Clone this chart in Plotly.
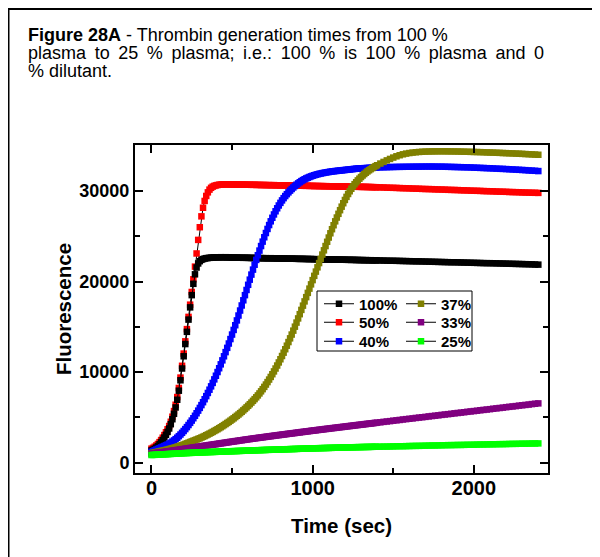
import plotly.graph_objects as go

# ---------------- data ----------------
time_sec = list(range(0, 1400, 10)) + list(range(1400, 2401, 20))

series_names = ["100%", "50%", "40%", "37%", "33%", "25%"]

f_100 = [
    1350, 1440, 1550, 1680, 1840, 2030, 2250, 2500, 2780, 3080,
    3400, 3780, 4250, 4800, 5400, 6100, 6950, 7950, 9100, 10400,
    11750, 13100, 14450, 15800, 17150, 18500, 19750, 20800, 21550, 22000,
    22250, 22400, 22480, 22540, 22580, 22600, 22620, 22640, 22650, 22660,
    22670, 22670, 22680, 22690, 22680, 22680, 22690, 22670, 22670, 22660,
    22650, 22650, 22640, 22650, 22640, 22630, 22630, 22620, 22630, 22620,
    22620, 22610, 22610, 22600, 22600, 22610, 22600, 22590, 22590, 22580,
    22580, 22580, 22570, 22570, 22580, 22570, 22560, 22560, 22550, 22550,
    22550, 22540, 22540, 22540, 22530, 22530, 22520, 22530, 22520, 22520,
    22510, 22510, 22500, 22510, 22500, 22500, 22490, 22490, 22480, 22490,
    22480, 22470, 22470, 22460, 22470, 22460, 22460, 22450, 22450, 22450,
    22440, 22440, 22440, 22430, 22430, 22420, 22430, 22420, 22410, 22420,
    22410, 22400, 22400, 22400, 22390, 22400, 22390, 22380, 22380, 22380,
    22370, 22370, 22360, 22370, 22360, 22350, 22360, 22350, 22340, 22340,
    22340,
    22330, 22320, 22310, 22300, 22300, 22290, 22280, 22270, 22260, 22250,
    22240, 22230, 22230, 22220, 22210, 22200, 22190, 22180, 22170, 22160,
    22150, 22140, 22130, 22130, 22120, 22110, 22100, 22090, 22080, 22070,
    22060, 22050, 22040, 22030, 22030, 22020, 22010, 22000, 21990, 21980,
    21970, 21960, 21950, 21940, 21930, 21920, 21910, 21900, 21880, 21870,
]

f_50 = [
    1550, 1640, 1760, 1900, 2070, 2270, 2500, 2760, 3050, 3360,
    3690, 4050, 4520, 5080, 5700, 6400, 7250, 8250, 9400, 10700,
    12050, 13400, 14750, 16100, 17450, 18850, 20250, 21650, 23100, 24600,
    26000, 27200, 28150, 28900, 29450, 29850, 30150, 30350, 30480, 30560,
    30620, 30660, 30690, 30710, 30720, 30730, 30730, 30740, 30730, 30720,
    30720, 30720, 30710, 30720, 30710, 30700, 30700, 30710, 30700, 30690,
    30690, 30690, 30680, 30680, 30690, 30670, 30670, 30670, 30660, 30660,
    30660, 30650, 30650, 30650, 30640, 30640, 30650, 30630, 30630, 30630,
    30620, 30620, 30620, 30610, 30610, 30620, 30600, 30600, 30600, 30590,
    30590, 30590, 30580, 30580, 30580, 30570, 30570, 30580, 30560, 30560,
    30560, 30550, 30550, 30550, 30540, 30540, 30540, 30530, 30530, 30530,
    30520, 30520, 30520, 30510, 30510, 30510, 30500, 30500, 30500, 30490,
    30490, 30490, 30480, 30480, 30480, 30470, 30470, 30470, 30460, 30460,
    30460, 30450, 30450, 30450, 30440, 30440, 30430, 30430, 30420, 30420,
    30410,
    30400, 30390, 30370, 30360, 30350, 30340, 30320, 30310, 30300, 30290,
    30270, 30260, 30250, 30230, 30220, 30210, 30200, 30180, 30170, 30160,
    30150, 30130, 30120, 30110, 30100, 30080, 30070, 30060, 30040, 30030,
    30020, 30010, 29990, 29980, 29970, 29960, 29940, 29930, 29920, 29910,
    29890, 29880, 29870, 29860, 29840, 29830, 29820, 29810, 29800, 29790,
]

f_40 = [
    1200, 1280, 1360, 1440, 1520, 1600, 1680, 1760, 1840, 1920,
    2000, 2100, 2210, 2330, 2460, 2600, 2760, 2930, 3110, 3300,
    3500, 3710, 3930, 4160, 4400, 4650, 4910, 5180, 5460, 5750,
    6050, 6360, 6680, 7010, 7350, 7700, 8060, 8430, 8810, 9200,
    9600, 10010, 10430, 10860, 11300, 11750, 12210, 12680, 13160, 13650,
    14150, 14660, 15180, 15710, 16250, 16800, 17360, 17930, 18500, 19070,
    19640, 20210, 20770, 21320, 21860, 22390, 22910, 23420, 23920, 24410,
    24890, 25360, 25810, 26240, 26650, 27040, 27410, 27760, 28090, 28400,
    28690, 28960, 29210, 29440, 29650, 29850, 30040, 30220, 30390, 30550,
    30700, 30840, 30970, 31090, 31200, 31300, 31390, 31470, 31545, 31615,
    31680, 31740, 31795, 31845, 31890, 31930, 31970, 32005, 32040, 32070,
    32100, 32130, 32160, 32180, 32200, 32220, 32240, 32260, 32280, 32300,
    32320, 32340, 32360, 32380, 32400, 32420, 32440, 32460, 32480, 32490,
    32500, 32510, 32520, 32530, 32540, 32550, 32560, 32570, 32580, 32590,
    32600,
    32610, 32620, 32630, 32640, 32650, 32660, 32665, 32670, 32675, 32680,
    32685, 32690, 32690, 32695, 32700, 32700, 32700, 32695, 32690, 32690,
    32680, 32670, 32660, 32650, 32640, 32630, 32620, 32610, 32600, 32580,
    32570, 32550, 32540, 32520, 32510, 32490, 32470, 32450, 32440, 32420,
    32400, 32380, 32360, 32340, 32320, 32300, 32270, 32250, 32230, 32200,
]

f_37 = [
    1050, 1090, 1130, 1170, 1210, 1250, 1290, 1330, 1370, 1410,
    1450, 1500, 1550, 1600, 1650, 1700, 1760, 1820, 1880, 1940,
    2000, 2070, 2140, 2210, 2280, 2350, 2420, 2490, 2560, 2630,
    2700, 2780, 2860, 2940, 3030, 3120, 3210, 3300, 3400, 3500,
    3600, 3700, 3810, 3920, 4030, 4150, 4270, 4390, 4510, 4640,
    4770, 4900, 5040, 5180, 5320, 5470, 5620, 5780, 5940, 6110,
    6280, 6460, 6640, 6830, 7020, 7220, 7430, 7650, 7880, 8120,
    8370, 8630, 8900, 9180, 9470, 9770, 10080, 10400, 10730, 11070,
    11420, 11780, 12150, 12530, 12920, 13320, 13730, 14150, 14580, 15020,
    15470, 15930, 16400, 16870, 17340, 17810, 18280, 18750, 19220, 19690,
    20160, 20630, 21100, 21570, 22040, 22510, 22980, 23450, 23920, 24390,
    24860, 25330, 25780, 26220, 26650, 27070, 27480, 27880, 28270, 28650,
    29010, 29350, 29670, 29970, 30250, 30510, 30750, 30970, 31170, 31360,
    31540, 31710, 31870, 32020, 32160, 32290, 32410, 32525, 32635, 32740,
    32840,
    33030, 33210, 33380, 33540, 33690, 33830, 33950, 34050, 34130, 34190,
    34240, 34280, 34310, 34330, 34350, 34360, 34370, 34375, 34380, 34380,
    34380, 34375, 34370, 34365, 34360, 34350, 34340, 34330, 34320, 34310,
    34300, 34290, 34280, 34260, 34250, 34240, 34220, 34210, 34190, 34180,
    34160, 34150, 34130, 34120, 34100, 34080, 34060, 34040, 34020, 34000,
]

f_33 = [
    1000, 1020, 1050, 1070, 1100, 1120, 1150, 1170, 1190, 1220,
    1240, 1270, 1300, 1320, 1350, 1380, 1400, 1430, 1460, 1490,
    1510, 1540, 1570, 1590, 1620, 1650, 1680, 1700, 1730, 1760,
    1780, 1810, 1840, 1870, 1890, 1920, 1950, 1970, 2000, 2030,
    2050, 2080, 2110, 2140, 2160, 2190, 2220, 2240, 2270, 2300,
    2320, 2350, 2380, 2400, 2430, 2460, 2480, 2510, 2540, 2560,
    2590, 2610, 2640, 2660, 2690, 2710, 2740, 2760, 2780, 2810,
    2830, 2860, 2880, 2910, 2930, 2950, 2980, 3000, 3030, 3050,
    3070, 3100, 3120, 3140, 3170, 3190, 3210, 3240, 3260, 3280,
    3310, 3330, 3350, 3380, 3400, 3420, 3450, 3470, 3490, 3520,
    3540, 3560, 3580, 3610, 3630, 3650, 3670, 3700, 3720, 3740,
    3760, 3790, 3810, 3830, 3850, 3870, 3900, 3920, 3940, 3960,
    3980, 4010, 4030, 4050, 4070, 4090, 4120, 4140, 4160, 4180,
    4200, 4220, 4250, 4270, 4290, 4310, 4330, 4350, 4380, 4400,
    4420,
    4460, 4510, 4550, 4590, 4640, 4680, 4720, 4770, 4810, 4850,
    4890, 4940, 4980, 5020, 5060, 5110, 5150, 5190, 5230, 5280,
    5320, 5360, 5400, 5450, 5490, 5530, 5570, 5620, 5660, 5700,
    5740, 5790, 5830, 5870, 5910, 5960, 6000, 6040, 6080, 6130,
    6170, 6210, 6250, 6300, 6340, 6380, 6420, 6470, 6510, 6550,
]

f_25 = [
    850, 860, 870, 880, 890, 900, 910, 920, 930, 940,
    950, 960, 970, 980, 990, 1000, 1010, 1020, 1030, 1040,
    1050, 1060, 1070, 1080, 1080, 1090, 1100, 1110, 1120, 1130,
    1130, 1140, 1150, 1150, 1160, 1170, 1180, 1180, 1190, 1190,
    1200, 1210, 1220, 1220, 1230, 1240, 1240, 1250, 1260, 1260,
    1270, 1280, 1280, 1290, 1300, 1300, 1310, 1320, 1320, 1330,
    1340, 1340, 1350, 1360, 1360, 1370, 1380, 1380, 1390, 1400,
    1400, 1410, 1420, 1420, 1430, 1430, 1440, 1450, 1450, 1460,
    1460, 1470, 1480, 1480, 1490, 1490, 1500, 1510, 1510, 1520,
    1520, 1530, 1540, 1540, 1550, 1550, 1560, 1570, 1570, 1580,
    1580, 1590, 1590, 1600, 1600, 1610, 1610, 1620, 1620, 1630,
    1630, 1640, 1640, 1650, 1650, 1660, 1660, 1670, 1670, 1680,
    1680, 1690, 1690, 1700, 1700, 1700, 1710, 1710, 1720, 1720,
    1720, 1730, 1730, 1740, 1740, 1740, 1750, 1750, 1760, 1760,
    1760,
    1770, 1780, 1780, 1790, 1800, 1810, 1820, 1820, 1830, 1840,
    1850, 1860, 1860, 1870, 1880, 1890, 1900, 1900, 1910, 1920,
    1930, 1940, 1940, 1950, 1960, 1960, 1970, 1980, 1980, 1990,
    2000, 2010, 2010, 2020, 2030, 2030, 2040, 2050, 2050, 2060,
    2070, 2080, 2080, 2090, 2100, 2100, 2110, 2120, 2120, 2130,
]

x_ticks = [0, 1000, 2000]
y_ticks = [0, 10000, 20000, 30000]

values = {"100%": f_100, "50%": f_50, "40%": f_40, "37%": f_37, "33%": f_33, "25%": f_25}
for k, v in values.items():
    assert len(v) == len(time_sec), (k, len(v), len(time_sec))

# ---------------- styling ----------------
PAGE_OFF = 8                      # default body margin of the html page
W, H = 600 - PAGE_OFF, 557 - PAGE_OFF
L, T = 135 - PAGE_OFF, 145 - PAGE_OFF
PW, PH = 413, 328
R, B = W - L - PW, H - T - PH

def px_x(page_px):
    return (page_px - PAGE_OFF - L) / PW

def px_y(page_py):
    return 1 - (page_py - PAGE_OFF - T) / PH

FONT = "Liberation Sans, Arial, sans-serif"
colors = {"100%": "#000000", "50%": "#FF0000", "40%": "#0000FF",
          "37%": "#808000", "33%": "#800080", "25%": "#00FF00"}
legend_ids = {"100%": "legend", "50%": "legend2", "40%": "legend3",
              "37%": "legend4", "33%": "legend5", "25%": "legend6"}
legend_pos = {"100%": (319, 304), "50%": (319, 322.5), "40%": (319, 341.5),
              "37%": (401, 304), "33%": (401, 322.5), "25%": (401, 341.5)}
draw_order = ["50%", "100%", "40%", "37%", "33%", "25%"]

fig = go.Figure()
for name in draw_order:
    fig.add_trace(go.Scatter(
        x=time_sec, y=values[name], name=name, mode="lines+markers",
        line=dict(color="#000000", width=1),
        marker=dict(symbol="square", size=6.5, color=colors[name], line=dict(width=0)),
        legend=legend_ids[name],
    ))

layout_legends = {}
for name in series_names:
    lx, ly = legend_pos[name]
    layout_legends[legend_ids[name]] = dict(
        x=px_x(lx), y=px_y(ly), xanchor="left", yanchor="middle",
        bgcolor="rgba(0,0,0,0)", borderwidth=0,
        font=dict(family=FONT, size=15, color="black", weight="bold"),
    )

axis_common = dict(
    showline=True, linecolor="black", linewidth=2, mirror="ticks",
    ticks="inside", ticklen=8, tickwidth=2, tickcolor="black",
    showgrid=False, zeroline=False, tickformat="d",
)
title_font = dict(family=FONT, size=20.5, color="black", weight="bold")

fig.update_layout(
    width=W, height=H,
    margin=dict(l=L, r=R, t=T, b=B, autoexpand=False),
    paper_bgcolor="white", plot_bgcolor="white",
    showlegend=True,
    xaxis=dict(range=[-102, 2460], tickvals=x_ticks,
               minor=dict(dtick=500, ticks="inside", ticklen=5, tickwidth=2, tickcolor="black"),
               title=dict(text="Time (sec)", font=title_font, standoff=21),
               ticklabelstandoff=-4,
               tickfont=dict(family=FONT, size=20, color="black", weight="bold"),
               **axis_common),
    yaxis=dict(range=[-1137, 35078], tickvals=y_ticks,
               minor=dict(dtick=5000, ticks="inside", ticklen=5, tickwidth=2, tickcolor="black"),
               title=dict(text="Fluorescence", font=title_font, standoff=2),
               ticklabelstandoff=0,
               tickfont=dict(family=FONT, size=18, color="black", weight="bold"),
               **axis_common),
    **layout_legends,
)

# outer frame of the figure panel and legend box
fig.add_shape(type="rect", xref="paper", yref="paper",
              x0=px_x(8.5), x1=px_x(640), y0=px_y(620), y1=px_y(9),
              line=dict(color="black", width=2), fillcolor="rgba(0,0,0,0)", layer="below")
fig.add_shape(type="rect", xref="paper", yref="paper",
              x0=px_x(317), x1=px_x(472), y0=px_y(351), y1=px_y(291),
              line=dict(color="black", width=1), fillcolor="white", layer="above")

# caption
cap_font = dict(family=FONT, size=18, color="black")
WIDE = " \u2009"
caption_lines = [
    "<b>Figure 28A</b> - Thrombin generation times from 100 %",
    WIDE.join("plasma to 25 % plasma; i.e.: 100 % is 100 % plasma and 0".split(" ")),
    "% dilutant.",
]
for i, line in enumerate(caption_lines):
    fig.add_annotation(text=line, xref="paper", yref="paper",
                       x=px_x(26), y=px_y(34.5 + 18 * i), xanchor="left", yanchor="middle",
                       showarrow=False, font=cap_font, align="left")

fig.write_html("out.html")
